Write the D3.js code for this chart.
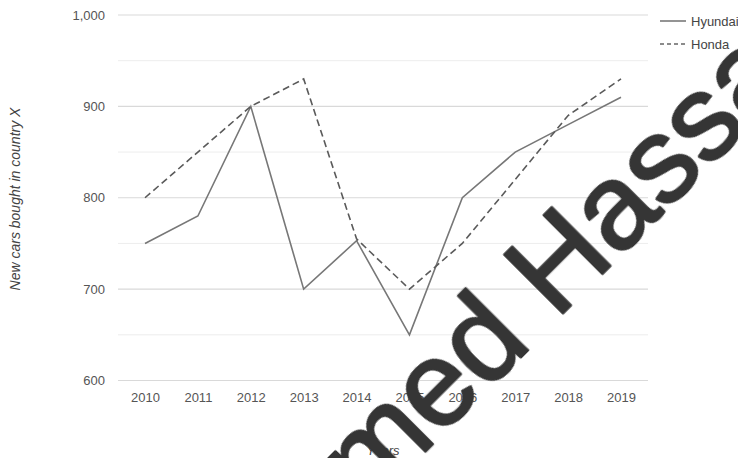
<!DOCTYPE html>
<html>
<head>
<meta charset="utf-8">
<script src="https://cdn.jsdelivr.net/npm/d3@7"></script>
<style>
  html, body { margin: 0; padding: 0; background: #fff; }
  svg { display: block; }
  text { font-family: "Liberation Sans", Arial, sans-serif; }
</style>
</head>
<body>
<script>
const years = ["2010","2011","2012","2013","2014","2015","2016","2017","2018","2019"];
const hyundai = [750, 780, 900, 700, 753, 650, 800, 850, 880, 910];
const honda   = [800, 850, 900, 930, 755, 700, 750, 820, 890, 930];
const seriesNames = ["Hyundai", "Honda"];
const yTicks = [600, 700, 800, 900, 1000];
const yMinorTicks = [650, 750, 850, 950];

const W = 738, H = 458;
const svg = d3.select("body").append("svg").attr("width", W).attr("height", H);

const x = d3.scalePoint().domain(years).range([145, 621]);
const y = d3.scaleLinear().domain([600, 1000]).range([380.5, 15]);
const gridX0 = 118, gridX1 = 648;

// minor gridlines
svg.append("g").selectAll("line").data(yMinorTicks).join("line")
  .attr("x1", gridX0).attr("x2", gridX1)
  .attr("y1", d => y(d)).attr("y2", d => y(d))
  .attr("stroke", "#ededed").attr("stroke-width", 1);

// major gridlines
svg.append("g").selectAll("line").data(yTicks).join("line")
  .attr("x1", gridX0).attr("x2", gridX1)
  .attr("y1", d => y(d)).attr("y2", d => y(d))
  .attr("stroke", "#d9d9d9").attr("stroke-width", 1.2);

// y axis labels
const yAxis = d3.axisLeft(y).tickValues(yTicks).tickFormat(d3.format(",")).tickSize(0).tickPadding(0);
const gy = svg.append("g").attr("transform", "translate(105,0)").call(yAxis);
gy.select(".domain").remove();
gy.selectAll("text").attr("fill", "#555").style("font-size", "13px").style("font-family", "'Liberation Sans', Arial, sans-serif");

// x axis labels
const xAxis = d3.axisBottom(x).tickSize(0).tickPadding(0);
const gx = svg.append("g").attr("transform", "translate(0,393)").call(xAxis);
gx.select(".domain").remove();
gx.selectAll("text").attr("fill", "#555").style("font-size", "13px").style("font-family", "'Liberation Sans', Arial, sans-serif");

// lines
const line = d3.line().x((d, i) => x(years[i])).y(d => y(d));
svg.append("path").datum(hyundai).attr("d", line)
  .attr("fill", "none").attr("stroke", "#777").attr("stroke-width", 1.6);
svg.append("path").datum(honda).attr("d", line)
  .attr("fill", "none").attr("stroke", "#5a5a5a").attr("stroke-width", 1.6)
  .attr("stroke-dasharray", "7,4");

// axis titles
svg.append("text").attr("transform", "translate(20,199) rotate(-90)")
  .attr("text-anchor", "middle").attr("fill", "#444")
  .style("font-size", "14px").style("font-style", "italic")
  .text("New cars bought in country X");
svg.append("text").attr("x", 383).attr("y", 455)
  .attr("text-anchor", "middle").attr("fill", "#444")
  .style("font-size", "13px").style("font-style", "italic")
  .text("Years");

// legend
const legend = svg.append("g");
seriesNames.forEach((name, i) => {
  const ly = 21 + i * 23;
  legend.append("line").attr("x1", 660).attr("x2", 686).attr("y1", ly).attr("y2", ly)
    .attr("stroke", "#666").attr("stroke-width", 1.4)
    .attr("stroke-dasharray", i === 1 ? "4,3" : null);
  legend.append("text").attr("x", 691).attr("y", ly + 4.5)
    .attr("fill", "#444").style("font-size", "13px").text(name);
});

// watermark
const defs = svg.append("defs");
defs.append("filter").attr("id", "soft").append("feGaussianBlur").attr("stdDeviation", 0.7);
svg.append("text")
  .attr("transform", "translate(264,613) rotate(-45)")
  .attr("fill", "#363636")
  .attr("stroke", "#363636").attr("stroke-width", 2.5).attr("stroke-linejoin", "round")
  .attr("filter", "url(#soft)")
  .style("font-size", "120px")
  .text("Ahmed Hassan");
</script>
</body>
</html>
